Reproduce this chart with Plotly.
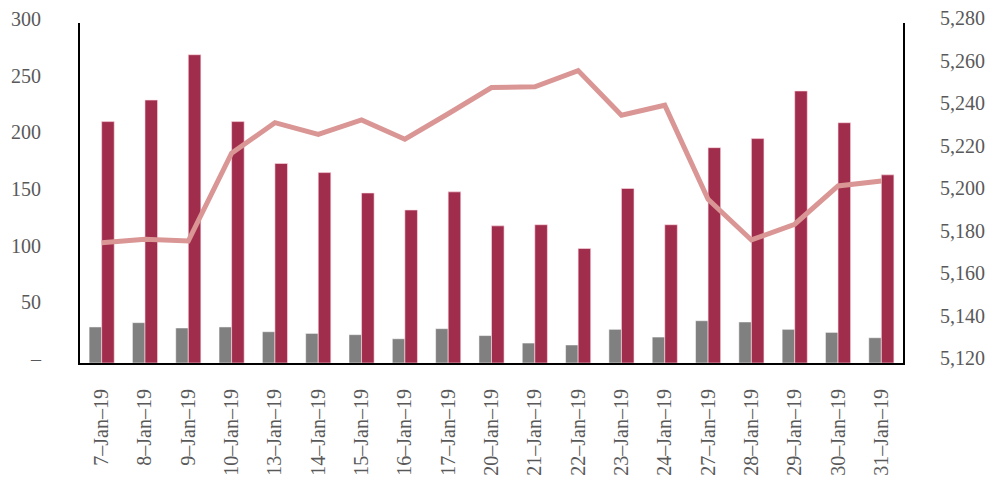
import plotly.graph_objects as go

dates = ["7–Jan–19", "8–Jan–19", "9–Jan–19", "10–Jan–19", "13–Jan–19", "14–Jan–19",
         "15–Jan–19", "16–Jan–19", "17–Jan–19", "20–Jan–19", "21–Jan–19", "22–Jan–19",
         "23–Jan–19", "24–Jan–19", "27–Jan–19", "28–Jan–19", "29–Jan–19", "30–Jan–19",
         "31–Jan–19"]

gray_values = [31.8, 35.6, 30.9, 31.8, 27.6, 26.1, 25.0, 21.4, 30.3, 24.2, 17.6, 15.9,
               29.7, 22.9, 37.3, 36.2, 29.7, 27.0, 22.3]
red_values = [213, 232, 272, 213, 176, 168, 150, 135, 151, 121, 122, 101,
              154, 122, 190, 198, 240, 212, 166]
line_values = [5176.6, 5178.2, 5177.4, 5218.7, 5233.1, 5227.6, 5234.4, 5225.3, 5237.3,
               5249.6, 5250.0, 5257.6, 5236.6, 5241.3, 5197.0, 5177.9, 5185.3, 5203.3,
               5205.6]

left_ticks = [0, 50, 100, 150, 200, 250, 300]
left_ticktext = ["–", "50", "100", "150", "200", "250", "300"]
right_ticks = [5120, 5140, 5160, 5180, 5200, 5220, 5240, 5260, 5280]

font_family = "Liberation Serif"
text_color = "#595959"
fsize = 20

fig = go.Figure()
fig.add_trace(go.Bar(
    x=dates, y=gray_values, name="gray",
    marker=dict(color="#808080", line=dict(color="rgba(255,255,255,0.5)", width=1)),
))
fig.add_trace(go.Bar(
    x=dates, y=red_values, name="red",
    marker=dict(color="#A02D4C", line=dict(color="rgba(255,220,230,0.6)", width=1)),
))
fig.add_trace(go.Scatter(
    x=dates, y=line_values, name="line", yaxis="y2", mode="lines",
    line=dict(color="#D99694", width=5),
))

fig.update_layout(
    width=1001, height=477,
    margin=dict(l=72, r=106, t=15, b=122),
    paper_bgcolor="white", plot_bgcolor="white",
    showlegend=False,
    barmode="group", bargap=0.42, bargroupgap=0,
    font=dict(family=font_family, color=text_color, size=fsize),
    xaxis=dict(
        type="category", automargin=False,
        tickangle=-90,
        showline=True, linecolor="black", linewidth=2,
        showgrid=False, zeroline=False,
        ticks="outside", ticklen=16, tickcolor="rgba(0,0,0,0)",
        tickfont=dict(size=fsize, color=text_color, family=font_family),
    ),
    yaxis=dict(
        range=[0, 300], automargin=False,
        tickvals=left_ticks, ticktext=left_ticktext,
        showline=True, linecolor="black", linewidth=2,
        showgrid=False, zeroline=False,
        ticks="outside", ticklen=33, tickcolor="rgba(0,0,0,0)",
        ticklabelshift=-4, ticklabeloverflow="allow",
        tickfont=dict(size=fsize, color=text_color, family=font_family),
    ),
    yaxis2=dict(
        range=[5120, 5280], automargin=False,
        tickvals=right_ticks, tickformat=",",
        overlaying="y", side="right",
        showline=True, linecolor="black", linewidth=2,
        showgrid=False, zeroline=False,
        ticks="outside", ticklen=31, tickcolor="rgba(0,0,0,0)",
        ticklabelshift=-5, ticklabeloverflow="allow",
        tickfont=dict(size=fsize, color=text_color, family=font_family),
    ),
)

fig.write_html("out.html")
